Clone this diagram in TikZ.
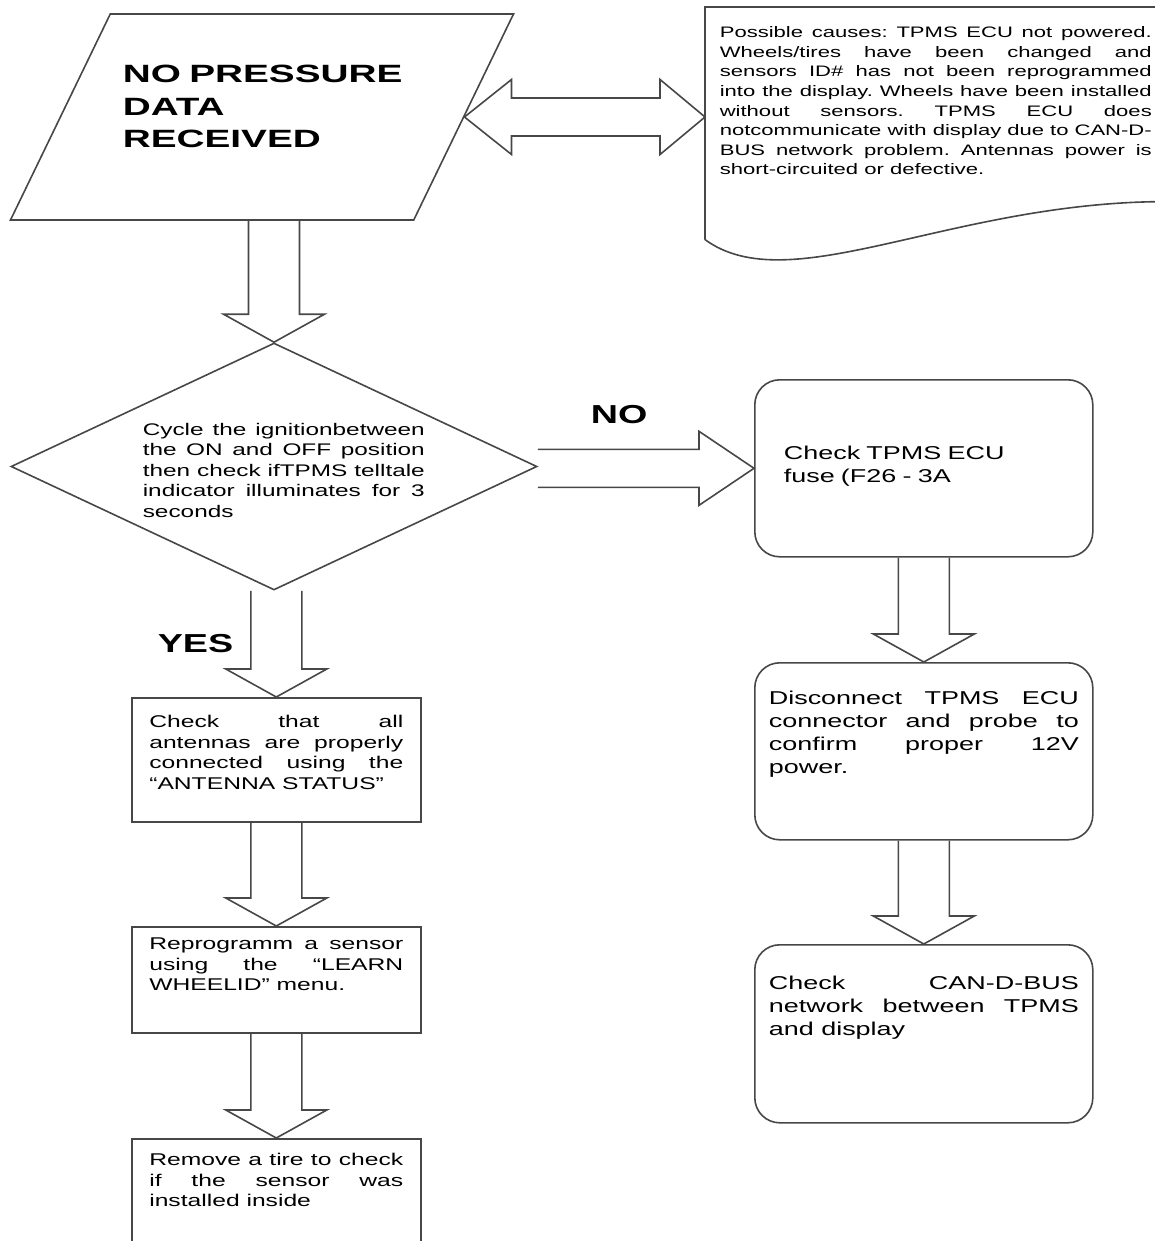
\documentclass[tikz,border=0pt]{standalone}
\usepackage{fontspec}
\setmainfont{Liberation Sans}[FakeStretch=1.45]
\newfontfamily\headfont{Liberation Sans}[FakeStretch=1.55]
\usetikzlibrary{shapes.geometric, calc, positioning}
\frenchspacing

\begin{document}
\begin{tikzpicture}[
    x=1pt, y=-1pt,
    line width=1.6pt,
    outline/.style={draw=black!72},
    txt/.style={inner sep=0pt, anchor=base west, align=justify},
    box/.style={outline, rectangle, anchor=north west, inner xsep=17.5pt, inner ysep=0pt,
        text width=254pt, align=justify, font=\fontsize{17}{20.4}\selectfont},
    rbox/.style={box, rounded corners=25pt, inner xsep=14pt, text width=310pt,
        font=\fontsize{18.6}{23}\selectfont},
    answer/.style={txt, align=left, font=\fontsize{26}{32.5}\selectfont\bfseries},
    fatdown/.style={outline, to path={let \p1=(\tikztostart), \p2=(\tikztotarget) in
        (\x2-25.5pt,\y1) -- (\x2-25.5pt,\y2+28pt) -- (\x2-50.5pt,\y2+28pt) -- (\x2,\y2)
        -- (\x2+50.5pt,\y2+28pt) -- (\x2+25.5pt,\y2+28pt) -- (\x2+25.5pt,\y1)}},
    fatright/.style={outline, to path={let \p1=(\tikztostart), \p2=(\tikztotarget) in
        (\x1,\y2+19pt) -- (\x2-55pt,\y2+19pt) -- (\x2-55pt,\y2+37pt) -- (\x2,\y2)
        -- (\x2-55pt,\y2-37pt) -- (\x2-55pt,\y2-19pt) -- (\x1,\y2-19pt)}},
    fatboth/.style={outline, to path={let \p1=(\tikztostart), \p2=(\tikztotarget) in
        (\x1,\y1) -- (\x1+47pt,\y1+37.5pt) -- (\x1+47pt,\y1+19pt) -- (\x2-45pt,\y1+19pt)
        -- (\x2-45pt,\y1+37.5pt) -- (\x2,\y1) -- (\x2-45pt,\y1-37.5pt) -- (\x2-45pt,\y1-19pt)
        -- (\x1+47pt,\y1-19pt) -- (\x1+47pt,\y1-37.5pt) -- cycle}}
]

\useasboundingbox (0,0) rectangle (1155,1241);
\clip (0,0) rectangle (1155,1241);

\node[outline, trapezium, trapezium left angle=71.8, trapezium right angle=108.2,
    trapezium stretches, minimum width=504pt, minimum height=206pt, inner sep=10pt]
    (nodata) at (262,117) {};
\node[answer, text width=330pt, font=\fontsize{25}{32.5}\headfont\bfseries] (nodatatext) at (122,83)
    {NO PRESSURE\\DATA\\RECEIVED};

\node[rectangle, anchor=north west, inner xsep=14pt, inner ysep=0pt, text width=432pt,
    text height=30pt, text depth=201pt, align=justify,
    font=\fontsize{15.2}{19.6}\selectfont] (causes) at (705,7)
    {Possible causes: TPMS ECU not powered.\linebreak
    Wheels/tires have been changed and\linebreak
    sensors ID\# has not been reprogrammed\linebreak
    into the display. Wheels have been installed\linebreak
    without sensors. TPMS ECU does\linebreak
    notcommunicate with display due to CAN-D-\linebreak
    BUS network problem. Antennas power is\linebreak
    short-circuited or defective.};
\draw[outline] (causes.south west) -- (causes.north west) -- (causes.north east)
    -- ($(causes.south east)+(0,-38)$)
    .. controls ($(causes.south west)+(245,-38)$) and ($(causes.south west)+(85,62)$)
    .. (causes.south west);

\node[outline, diamond, minimum width=526pt, minimum height=247pt, inner sep=0pt]
    (ignition) at (274,466.5) {};
\node[txt, text width=282pt, font=\fontsize{16.8}{20.5}\selectfont] (ignitiontext) at (142,435)
    {Cycle the ignitionbetween\linebreak
    the ON and OFF position\linebreak
    then check ifTPMS telltale\linebreak
    indicator illuminates for 3\linebreak
    seconds};

\node[answer] (no) at (590,423) {NO};
\node[answer] (yes) at (157,652) {YES};

\node[rbox, align=left, inner xsep=29pt, text width=280pt, text height=80pt, text depth=97pt]
    (fuse) at (754,379) {Check TPMS ECU\\fuse (F26 - 3A};
\node[rbox, text height=42pt, text depth=135pt] (disconnect) at (754,662)
    {Disconnect TPMS ECU\linebreak connector and probe to\linebreak confirm proper 12V\linebreak power.};
\node[rbox, text height=45pt, text depth=133pt] (canbus) at (754,944)
    {Check CAN-D-BUS\linebreak network between TPMS\linebreak and display};

\node[box, text height=30pt, text depth=94pt] (antennas) at (131,697)
    {Check that all\linebreak antennas are properly\linebreak connected using the\linebreak “ANTENNA STATUS”};
\node[box, text height=23pt, text depth=83pt] (learn) at (131,926)
    {Reprogramm a sensor\linebreak using the “LEARN\linebreak WHEELID” menu.};
\node[box, text height=27pt, text depth=120pt] (tire) at (131,1138)
    {Remove a tire to check\linebreak if the sensor was\linebreak installed inside};

\path
    (nodata.right side) edge [fatboth] (nodata.right side -| causes.west)
    (nodata.bottom side) edge [fatdown] (ignition.north)
    (ignition.east) edge [fatright] (fuse.west)
    (ignition.south) edge [fatdown] (antennas.north)
    (antennas.south) edge [fatdown] (learn.north)
    (learn.south) edge [fatdown] (tire.north)
    (fuse.south) edge [fatdown] (disconnect.north)
    (disconnect.south) edge [fatdown] (canbus.north)
    ;

\end{tikzpicture}
\end{document}
